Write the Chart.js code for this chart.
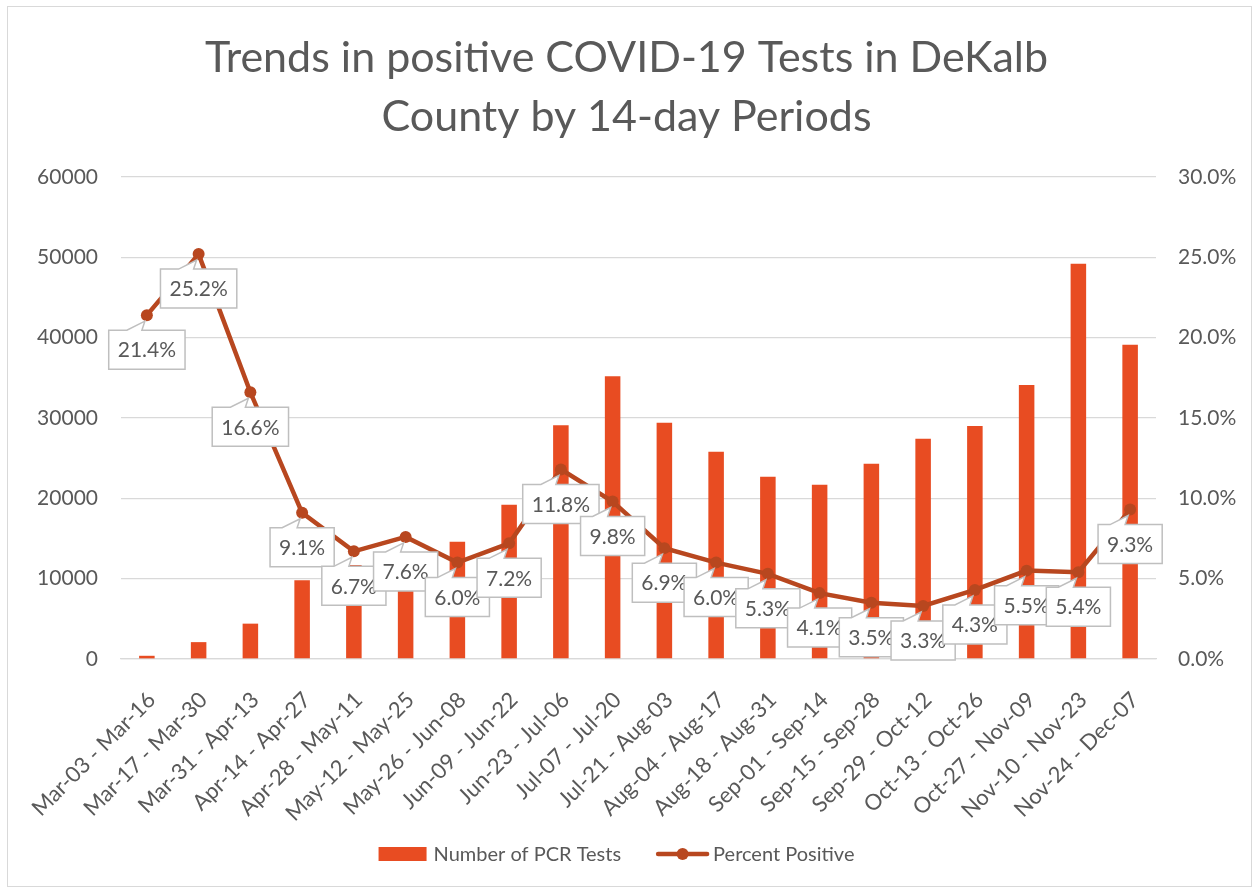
<!DOCTYPE html>
<html>
<head>
<meta charset="utf-8">
<script src="https://cdn.jsdelivr.net/npm/chart.js@4.4.1/dist/chart.umd.min.js"></script>
<style>
	body { margin: 0; background: #fff; }
	#frame { position: absolute; left: 7px; top: 6px; width: 1243px; height: 879px; border: 1px solid #d9d9d9; }
	#grafico { position: absolute; left: 0; top: 0; }
</style>
</head>
<body>
<div id="frame"></div>
<canvas id="grafico" width="1253" height="890"></canvas>
<script>
const periodos = ['Mar-03 - Mar-16', 'Mar-17 - Mar-30', 'Mar-31 - Apr-13', 'Apr-14 - Apr-27', 'Apr-28 - May-11',
	'May-12 - May-25', 'May-26 - Jun-08', 'Jun-09 - Jun-22', 'Jun-23 - Jul-06', 'Jul-07 - Jul-20',
	'Jul-21 - Aug-03', 'Aug-04 - Aug-17', 'Aug-18 - Aug-31', 'Sep-01 - Sep-14', 'Sep-15 - Sep-28',
	'Sep-29 - Oct-12', 'Oct-13 - Oct-26', 'Oct-27 - Nov-09', 'Nov-10 - Nov-23', 'Nov-24 - Dec-07'];
const testesPCR = [400, 2100, 4400, 9800, 11700, 11000, 14600, 19200, 29100, 35200,
	29400, 25800, 22700, 21700, 24300, 27400, 29000, 34100, 49200, 39100];
const percentPositivo = [21.4, 25.2, 16.6, 9.1, 6.7, 7.6, 6.0, 7.2, 11.8, 9.8,
	6.9, 6.0, 5.3, 4.1, 3.5, 3.3, 4.3, 5.5, 5.4, 9.3];
const titulo = ['Trends in positive COVID-19 Tests in DeKalb', 'County by 14-day Periods'];

const corBarra = '#E84C22';
const corLinha = '#B8471F';
const corTexto = '#595959';
const fonte = 'Lato';

// etiquetas com balão
const etiquetasBalao = {
	id: 'etiquetasBalao',
	afterDatasetsDraw(chart) {
		const ctx = chart.ctx;
		const meta = chart.getDatasetMeta(0);
		ctx.save();
		ctx.font = '21px ' + fonte;
		ctx.textAlign = 'center';
		ctx.textBaseline = 'middle';
		meta.data.forEach((pt, i) => {
			const txt = percentPositivo[i].toFixed(1) + '%';
			const w = ctx.measureText(txt).width + 18;
			const h = 39;
			const x0 = pt.x - w / 2, y0 = pt.y + 15;
			ctx.beginPath();
			ctx.moveTo(x0, y0);
			ctx.lineTo(pt.x - 20, y0);
			ctx.lineTo(pt.x - 2, pt.y + 6);
			ctx.lineTo(pt.x - 5, y0);
			ctx.lineTo(x0 + w, y0);
			ctx.lineTo(x0 + w, y0 + h);
			ctx.lineTo(x0, y0 + h);
			ctx.closePath();
			ctx.fillStyle = '#fff';
			ctx.fill();
			ctx.strokeStyle = '#bfbfbf';
			ctx.lineWidth = 1.5;
			ctx.stroke();
			ctx.fillStyle = corTexto;
			ctx.fillText(txt, pt.x, y0 + h / 2 + 1);
		});
		ctx.restore();
	}
};

// legenda desenhada à mão, no fundo
const legendaFundo = {
	id: 'legendaFundo',
	afterDraw(chart) {
		const ctx = chart.ctx;
		const nomes = [chart.data.datasets[1].label, chart.data.datasets[0].label];
		ctx.save();
		ctx.font = '20px ' + fonte;
		ctx.textBaseline = 'middle';
		ctx.fillStyle = corTexto;
		const w1 = ctx.measureText(nomes[0]).width;
		const w2 = ctx.measureText(nomes[1]).width;
		const total = 48 + 7 + w1 + 35 + 53 + 4 + w2;
		const y = 854;
		let x = chart.width / 2 - 10 - total / 2;
		ctx.fillStyle = corBarra;
		ctx.fillRect(x, y - 7, 48, 14);
		x += 55;
		ctx.fillStyle = corTexto;
		ctx.fillText(nomes[0], x, y + 1);
		x += w1 + 35;
		ctx.strokeStyle = corLinha;
		ctx.lineWidth = 4.5;
		ctx.lineCap = 'round';
		ctx.beginPath(); ctx.moveTo(x + 2, y); ctx.lineTo(x + 51, y); ctx.stroke();
		ctx.fillStyle = corLinha;
		ctx.beginPath(); ctx.arc(x + 26.5, y, 6, 0, Math.PI * 2); ctx.fill();
		x += 57;
		ctx.fillStyle = corTexto;
		ctx.fillText(nomes[1], x, y + 1);
		ctx.restore();
	}
};

new Chart(document.getElementById('grafico').getContext('2d'), {
	data: {
		labels: periodos,
		datasets: [{
			type: 'line',
			label: 'Percent Positive',
			data: percentPositivo,
			yAxisID: 'y2',
			borderColor: corLinha,
			backgroundColor: corLinha,
			borderWidth: 4.5,
			pointRadius: 6,
			pointBackgroundColor: corLinha,
			pointBorderWidth: 0,
			tension: 0,
			order: 0
		}, {
			type: 'bar',
			label: 'Number of PCR Tests',
			data: testesPCR,
			yAxisID: 'y',
			backgroundColor: corBarra,
			barPercentage: 0.3,
			categoryPercentage: 1,
			order: 1
		}]
	},
	options: {
		responsive: false,
		animation: false,
		layout: { padding: { left: 0, right: 0, top: 0, bottom: 61 } },
		plugins: {
			title: {
				display: true,
				text: titulo,
				color: corTexto,
				font: { family: fonte, size: 43, weight: 'normal', lineHeight: 1.36 },
				padding: { top: 29, bottom: 31 }
			},
			legend: { display: false },
			tooltip: { enabled: false }
		},
		scales: {
			x: {
				grid: { display: false },
				border: { color: '#d9d9d9', width: 1.3 },
				ticks: {
					color: corTexto,
					font: { family: fonte, size: 22 },
					minRotation: 45,
					maxRotation: 45,
					autoSkip: false,
					padding: 20,
					labelOffset: 5
				},
				afterFit(s) { s.height = 170; }
			},
			y: {
				position: 'left',
				min: 0, max: 60000,
				ticks: { stepSize: 10000, color: corTexto, font: { family: fonte, size: 21 }, padding: 23, callback: v => String(v) },
				grid: { color: '#d9d9d9', lineWidth: 1.3, drawTicks: false },
				border: { display: false },
				afterFit(s) { s.width = 121; }
			},
			y2: {
				position: 'right',
				min: 0, max: 30,
				ticks: {
					stepSize: 5, color: corTexto, font: { family: fonte, size: 21 }, padding: 22,
					callback: v => v.toFixed(1) + '%'
				},
				grid: { drawOnChartArea: false, drawTicks: false },
				border: { display: false },
				afterFit(s) { s.width = 97; }
			}
		}
	},
	plugins: [etiquetasBalao, legendaFundo]
});
</script>
</body>
</html>
